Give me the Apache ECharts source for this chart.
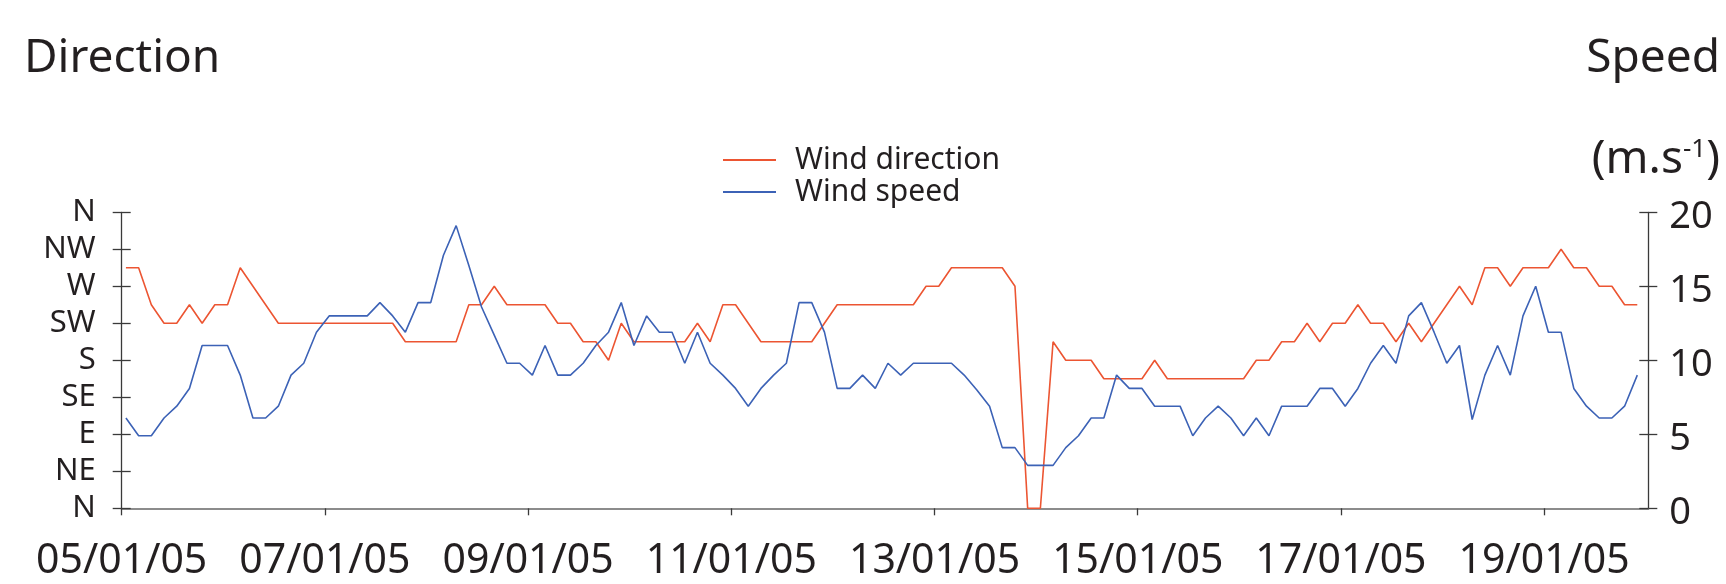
<!DOCTYPE html>
<html>
<head>
<meta charset="utf-8">
<script src="https://cdn.jsdelivr.net/npm/echarts@6.0.0/dist/echarts.min.js"></script>
<style>
  html, body { margin: 0; padding: 0; background: #ffffff; }
  #chart { width: 1726px; height: 584px; }
</style>
</head>
<body>
<div id="chart"></div>
<script>
// ---------------- DATA ----------------
// x tick labels (every 2 days, hours since 05/01/05 00:00)
const dateLabels = ['05/01/05', '07/01/05', '09/01/05', '11/01/05', '13/01/05', '15/01/05', '17/01/05', '19/01/05'];
// left axis labels, from 0° to 360° every 45°
const dirTickLabels = ['N', 'NE', 'E', 'SE', 'S', 'SW', 'W', 'NW', 'N'];
// sampling of the records: 3-hourly
const START_HOUR = 1;
const STEP_HOURS = 3;
// wind direction, degrees (0 = N, 90 = E, 180 = S, 270 = W)
const windDirection = [
  292.5, 292.5, 247.5, 225, 225, 247.5, 225, 247.5, 247.5, 292.5,
  270, 247.5, 225, 225, 225, 225, 225, 225, 225, 225,
  225, 225, 202.5, 202.5, 202.5, 202.5, 202.5, 247.5, 247.5, 270,
  247.5, 247.5, 247.5, 247.5, 225, 225, 202.5, 202.5, 180, 225,
  202.5, 202.5, 202.5, 202.5, 202.5, 225, 202.5, 247.5, 247.5, 225,
  202.5, 202.5, 202.5, 202.5, 202.5, 225, 247.5, 247.5, 247.5, 247.5,
  247.5, 247.5, 247.5, 270, 270, 292.5, 292.5, 292.5, 292.5, 292.5,
  270, 0, 0, 202.5, 180, 180, 180, 157.5, 157.5, 157.5,
  157.5, 180, 157.5, 157.5, 157.5, 157.5, 157.5, 157.5, 157.5, 180,
  180, 202.5, 202.5, 225, 202.5, 225, 225, 247.5, 225, 225,
  202.5, 225, 202.5, 225, 247.5, 270, 247.5, 292.5, 292.5, 270,
  292.5, 292.5, 292.5, 315, 292.5, 292.5, 270, 270, 247.5, 247.5
];
// wind speed, m/s
const windSpeed = [
  6.1, 4.9, 4.9, 6.1, 6.9, 8.1, 11.0, 11.0, 11.0, 9.0,
  6.1, 6.1, 6.9, 9.0, 9.8, 11.9, 13.0, 13.0, 13.0, 13.0,
  13.9, 13.0, 11.9, 13.9, 13.9, 17.1, 19.1, 16.4, 13.6, 11.7,
  9.8, 9.8, 9.0, 11.0, 9.0, 9.0, 9.8, 11.0, 11.9, 13.9,
  11.0, 13.0, 11.9, 11.9, 9.8, 11.9, 9.8, 9.0, 8.1, 6.9,
  8.1, 9.0, 9.8, 13.9, 13.9, 11.9, 8.1, 8.1, 9.0, 8.1,
  9.8, 9.0, 9.8, 9.8, 9.8, 9.8, 9.0, 8.0, 6.9, 4.1,
  4.1, 2.9, 2.9, 2.9, 4.1, 4.9, 6.1, 6.1, 9.0, 8.1,
  8.1, 6.9, 6.9, 6.9, 4.9, 6.1, 6.9, 6.1, 4.9, 6.1,
  4.9, 6.9, 6.9, 6.9, 8.1, 8.1, 6.9, 8.1, 9.8, 11.0,
  9.8, 13.0, 13.9, 11.9, 9.8, 11.0, 6.0, 9.0, 11.0, 9.0,
  13.0, 15.0, 11.9, 11.9, 8.1, 6.9, 6.1, 6.1, 6.9, 9.0
];

// ---------------- BUILD ----------------
const hours = windDirection.map((_, i) => START_HOUR + STEP_HOURS * i);
const dirData = windDirection.map((v, i) => [hours[i], v]);
const speedData = windSpeed.map((v, i) => [hours[i], v]);
const tickHours = dateLabels.map((_, k) => k * 48);
const X_MAX = 360.6;

const FONT = 'Noto Sans';
const INK = '#231f20';
const AXIS = '#3a3a3a';
const RED = '#ec5532';
const BLUE = '#3c62b6';

const chart = echarts.init(document.getElementById('chart'), null, { renderer: 'canvas' });

const option = {
  animation: false,
  backgroundColor: '#ffffff',
  textStyle: { fontFamily: FONT, color: INK },
  grid: { left: 121.7, right: 77.7, top: 212.3, bottom: 75.7, containLabel: false },
  legend: {
    orient: 'vertical',
    left: 718,
    top: 140,
    icon: 'rect',
    itemWidth: 53,
    itemHeight: 2,
    itemGap: 2,
    padding: 5,
    data: ['Wind direction', 'Wind speed'],
    textStyle: { fontFamily: FONT, fontSize: 30, color: INK, padding: [0, 0, 0, 14] }
  },
  xAxis: {
    type: 'value',
    min: 0,
    max: X_MAX,
    interval: 48,
    axisLine: { show: true, lineStyle: { color: '#8c8c8c', width: 2 } },
    axisTick: { show: true, length: 7, lineStyle: { color: AXIS, width: 1.3 }, customValues: tickHours },
    axisLabel: {
      customValues: tickHours,
      showMinLabel: true,
      showMaxLabel: true,
      hideOverlap: false,
      fontFamily: FONT, fontSize: 41, color: INK, margin: 33,
      formatter: function (v) {
        const k = Math.round(v / 48);
        return (Math.abs(v - k * 48) < 1e-6 && dateLabels[k]) ? dateLabels[k] : '';
      }
    },
    splitLine: { show: false }
  },
  yAxis: [
    {
      type: 'value', position: 'left', min: 0, max: 360, interval: 45,
      axisLine: { show: true, lineStyle: { color: AXIS, width: 1.3 } },
      axisTick: { show: true, length: 9, lineStyle: { color: AXIS, width: 1.3 } },
      axisLabel: {
        fontFamily: FONT, fontSize: 31, color: INK, margin: 26, padding: [0, 0, 14, 0],
        formatter: function (v) { return dirTickLabels[Math.round(v / 45)] || ''; }
      },
      splitLine: { show: false }
    },
    {
      type: 'value', position: 'right', min: 0, max: 20, interval: 5,
      axisLine: { show: true, lineStyle: { color: AXIS, width: 1.3 } },
      axisTick: { show: true, length: 9, lineStyle: { color: AXIS, width: 1.3 } },
      axisLabel: { fontFamily: FONT, fontSize: 38, color: INK, margin: 21, verticalAlign: 'top', lineHeight: 10 },
      splitLine: { show: false }
    },
    {
      type: 'value', position: 'left', min: 0, max: 360, interval: 45,
      axisLine: { show: false },
      axisTick: { show: true, inside: true, length: 9, lineStyle: { color: AXIS, width: 1.3 } },
      axisLabel: { show: false },
      splitLine: { show: false }
    },
    {
      type: 'value', position: 'right', min: 0, max: 20, interval: 5,
      axisLine: { show: false },
      axisTick: { show: true, inside: true, length: 9, lineStyle: { color: AXIS, width: 1.3 } },
      axisLabel: { show: false },
      splitLine: { show: false }
    }
  ],
  series: [
    {
      name: 'Wind direction', type: 'line', yAxisIndex: 0,
      data: dirData, symbol: 'none', smooth: false,
      lineStyle: { color: RED, width: 1.6 }, itemStyle: { color: RED }, z: 2
    },
    {
      name: 'Wind speed', type: 'line', yAxisIndex: 1,
      data: speedData, symbol: 'none', smooth: false,
      lineStyle: { color: BLUE, width: 1.6 }, itemStyle: { color: BLUE }, z: 3
    }
  ],
  graphic: [
    {
      type: 'text', left: 24, top: 36,
      style: { text: 'Direction', font: '46px "Noto Sans"', fill: INK }
    },
    {
      type: 'text', right: 6, top: 36,
      style: { text: 'Speed', font: '46px "Noto Sans"', fill: INK }
    },
    {
      type: 'text', right: 6, top: 137,
      style: {
        text: '(m.s{sup|-1})',
        font: '46px "Noto Sans"', fill: INK,
        rich: { sup: { fontFamily: FONT, fontSize: 26, color: INK, verticalAlign: 'top', lineHeight: 46 } }
      }
    }
  ]
};

chart.setOption(option);
</script>
</body>
</html>
